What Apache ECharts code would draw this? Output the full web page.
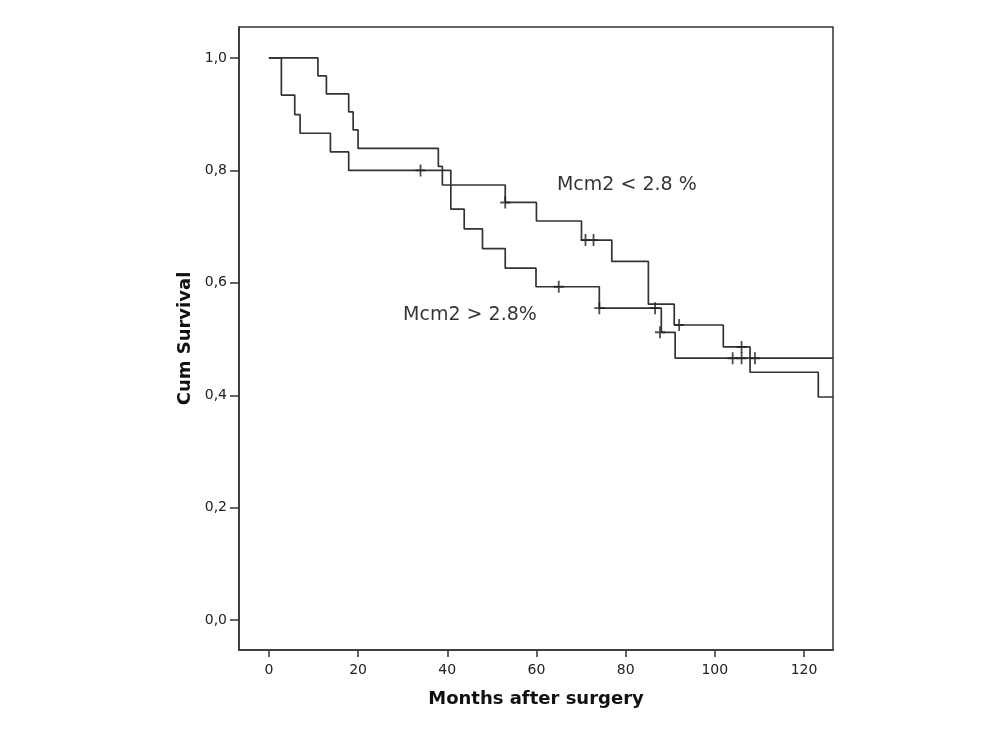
<!DOCTYPE html>
<html>
<head>
<meta charset="utf-8">
<script src="https://cdn.jsdelivr.net/npm/echarts@6/dist/echarts.min.js"></script>
<style>
html,body{margin:0;padding:0;background:#fff;}
#chart{width:1000px;height:750px;}
</style>
</head>
<body>
<div id="chart"></div>
<script>
// Mcm2 > 2.8% (lower curve at start)
var highTimes = [0, 2.8, 5.8, 7.0, 13.8, 17.9, 40.8, 43.8, 47.9, 53, 59.9, 74.1, 88, 91.1, 126.5];
var highSurv  = [1.0, 0.934, 0.899, 0.866, 0.833, 0.800, 0.731, 0.696, 0.661, 0.626, 0.593, 0.555, 0.512, 0.466, 0.466];
var highCensorTimes = [34, 65, 74.1, 86.6, 87.7, 104, 106, 109];
var highCensorSurv  = [0.800, 0.593, 0.555, 0.555, 0.512, 0.466, 0.466, 0.466];

// Mcm2 < 2.8 %
var lowTimes = [0, 11, 12.9, 17.9, 18.9, 20, 38, 38.9, 53, 60, 70.1, 76.9, 85.1, 90.9, 101.9, 107.9, 123.2, 126.5];
var lowSurv  = [1.0, 0.968, 0.936, 0.904, 0.872, 0.839, 0.807, 0.774, 0.743, 0.710, 0.676, 0.638, 0.562, 0.525, 0.486, 0.441, 0.397, 0.397];
var lowCensorTimes = [53, 71, 72.8, 92, 106];
var lowCensorSurv  = [0.743, 0.676, 0.676, 0.525, 0.486];

var xTicks = [0, 20, 40, 60, 80, 100, 120];
var yTicks = [0, 0.2, 0.4, 0.6, 0.8, 1.0];

var annotationTexts = ['Mcm2 < 2.8 %', 'Mcm2 > 2.8%'];
var annotationX = [64.6, 30.1];
var annotationY = [0.774, 0.543];

function zip(a, b) { return a.map(function (v, i) { return [v, b[i]]; }); }

var lineColor = '#333333';
var plusPath = 'path://M4.1,0H5.9V4.2H10V5.8H5.9V10H4.1V5.8H0V4.2H4.1Z';
var fontFam = 'DejaVu Sans';

var chart = echarts.init(document.getElementById('chart'), null, {renderer: 'canvas'});
chart.setOption({
  animation: false,
  backgroundColor: '#fff',
  textStyle: {fontFamily: fontFam},
  grid: {left: 239, right: 167, top: 27, bottom: 100, show: true, borderColor: '#333', borderWidth: 1.5, containLabel: false},
  xAxis: {
    type: 'value', min: -6.7, max: 126.5,
    name: 'Months after surgery', nameLocation: 'middle', nameGap: 40,
    nameTextStyle: {fontFamily: fontFam, fontWeight: 'bold', fontSize: 18, color: '#111'},
    axisLine: {show: true, onZero: false, lineStyle: {color: '#333', width: 1.5}},
    axisTick: {show: true, inside: false, length: 7, customValues: xTicks, lineStyle: {color: '#333', width: 1.5}},
    axisLabel: {customValues: xTicks, margin: 13, fontSize: 14, color: '#222', fontFamily: fontFam},
    splitLine: {show: false}
  },
  yAxis: {
    type: 'value', min: -0.053, max: 1.055,
    name: 'Cum Survival', nameLocation: 'middle', nameGap: 43,
    nameTextStyle: {fontFamily: fontFam, fontWeight: 'bold', fontSize: 18, color: '#111'},
    axisLine: {show: true, onZero: false, lineStyle: {color: '#333', width: 1.5}},
    axisTick: {show: true, inside: false, length: 9, customValues: yTicks, lineStyle: {color: '#333', width: 1.5}},
    axisLabel: {customValues: yTicks, margin: 12, fontSize: 14, color: '#222', fontFamily: fontFam,
      formatter: function (v) { return v.toFixed(1).replace('.', ','); }},
    splitLine: {show: false}
  },
  series: [
    {type: 'line', step: 'end', data: zip(lowTimes, lowSurv), showSymbol: false,
      lineStyle: {color: lineColor, width: 1.7}, z: 3},
    {type: 'line', step: 'end', data: zip(highTimes, highSurv), showSymbol: false,
      lineStyle: {color: lineColor, width: 1.7}, z: 3},
    {type: 'scatter', data: zip(lowCensorTimes, lowCensorSurv), symbol: plusPath, symbolSize: [10, 12],
      itemStyle: {color: '#222'}, z: 4},
    {type: 'scatter', data: zip(highCensorTimes, highCensorSurv), symbol: plusPath, symbolSize: [10, 12],
      itemStyle: {color: '#222'}, z: 4},
    {type: 'scatter', symbolSize: 0, silent: true, z: 5,
      data: annotationTexts.map(function (t, i) { return {value: [annotationX[i], annotationY[i]], name: t}; }),
      label: {show: true, position: 'right', distance: 0, formatter: function (p) { return p.name; },
        fontFamily: fontFam, fontSize: 19, color: '#000'}}
  ]
});
</script>
</body>
</html>
